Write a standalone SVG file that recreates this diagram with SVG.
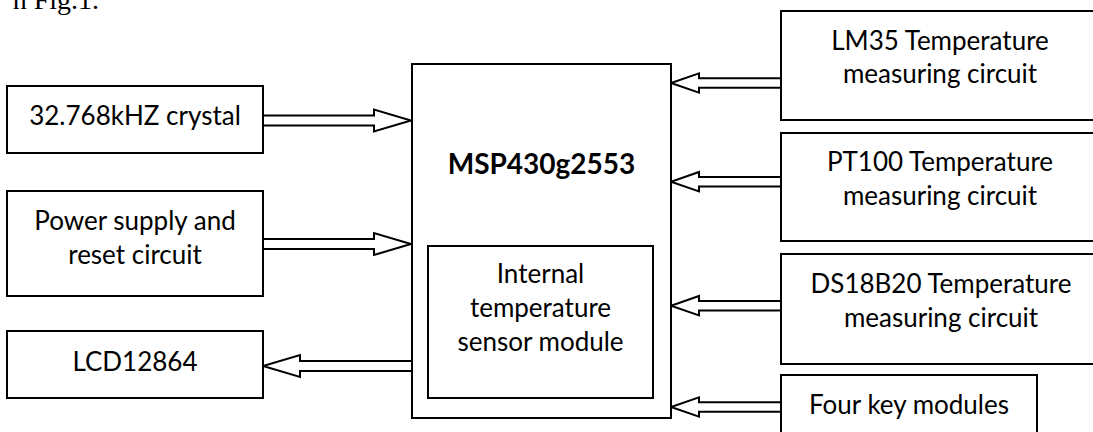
<svg xmlns="http://www.w3.org/2000/svg" width="1093" height="432" viewBox="0 0 1093 432">
<style>
.box{fill:#fff;stroke:#000;stroke-width:2}
.arr{fill:#fff;stroke:#000;stroke-width:2;stroke-linejoin:miter}
.t{font-family:Lato,"Open Sans","Liberation Sans",sans-serif;font-size:26px;fill:#000;text-anchor:middle}
.tb{font-family:Lato,"Open Sans","Liberation Sans",sans-serif;font-size:28px;font-weight:bold;fill:#000;text-anchor:middle}
.cap{font-family:"Liberation Serif",serif;font-size:28px;fill:#000;text-anchor:end}
</style>
<rect width="1093" height="432" fill="#fff"/>
<text class="cap" x="99" y="9">n Fig.1.</text>
<g id="connectors">
<polygon class="arr" points="263,115.5 374,115.5 374,109.5 411,120.5 374,131.5 374,125.5 263,125.5"/>
<polygon class="arr" points="263,239 374,239 374,233 411,244 374,255 374,249 263,249"/>
<polygon class="arr" points="412,361 300,361 300,355 263,366 300,377 300,371 412,371"/>
<polygon class="arr" points="781,78.3 699,78.3 699,73.3 671,83 699,92.7 699,87.7 781,87.7"/>
<polygon class="arr" points="781,177 699,177 699,172 671,181.7 699,191.4 699,186.4 781,186.4"/>
<polygon class="arr" points="781,301 699,301 699,296 671,305.7 699,315.4 699,310.4 781,310.4"/>
<polygon class="arr" points="781,402.3 699,402.3 699,397.3 671,407 699,416.7 699,411.7 781,411.7"/>
</g>
<g id="crystal"><rect class="box" x="7" y="86" width="256" height="67"/><text class="t" x="135" y="125">32.768kHZ crystal</text></g>
<g id="power"><rect class="box" x="7" y="191" width="256" height="105"/><text class="t" x="135" y="230">Power supply and</text><text class="t" x="135" y="264">reset circuit</text></g>
<g id="lcd"><rect class="box" x="7" y="331" width="256" height="67"/><text class="t" x="135" y="371">LCD12864</text></g>
<g id="msp"><rect class="box" x="412" y="64" width="259" height="354"/><text class="tb" x="541.5" y="174">MSP430g2553</text></g>
<g id="internal"><rect class="box" x="428" y="246" width="225" height="152"/><text class="t" x="540.5" y="283">Internal</text><text class="t" x="540.5" y="317">temperature</text><text class="t" x="540.5" y="351">sensor module</text></g>
<g id="lm35"><rect class="box" x="781" y="11" width="330" height="109"/><text class="t" x="940" y="50">LM35 Temperature</text><text class="t" x="940" y="83">measuring circuit</text></g>
<g id="pt100"><rect class="box" x="781" y="133" width="330" height="108"/><text class="t" x="940" y="171">PT100 Temperature</text><text class="t" x="940" y="205">measuring circuit</text></g>
<g id="ds18b20"><rect class="box" x="781" y="254" width="330" height="110"/><text class="t" x="941" y="293">DS18B20 Temperature</text><text class="t" x="941" y="327">measuring circuit</text></g>
<g id="keys"><rect class="box" x="781" y="375" width="256" height="70"/><text class="t" x="909" y="414">Four key modules</text></g>
</svg>
